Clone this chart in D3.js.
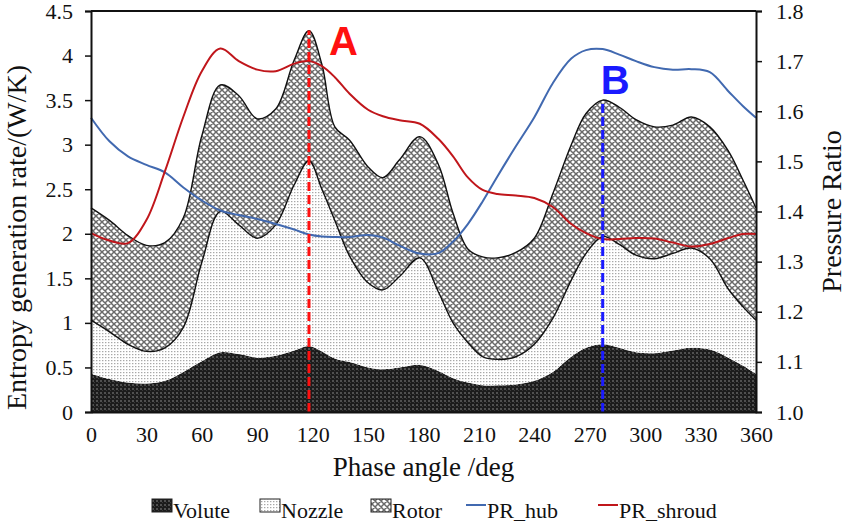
<!DOCTYPE html>
<html>
<head>
<meta charset="utf-8">
<script src="https://cdn.jsdelivr.net/npm/d3@7"></script>
<style>
  html, body { margin: 0; padding: 0; background: #fff; }
  svg { display: block; }
  text { font-family: "Liberation Serif", "Times New Roman", serif; fill: #111; }
</style>
</head>
<body>
<div id="chart"></div>
<script>
// Phase angle samples (deg)
const phase = [0, 10, 20, 30, 40, 50, 60, 70, 80, 90, 100, 110, 118, 125, 132, 140, 150, 158, 167, 178,
               188, 196, 204, 212, 220, 230, 240, 250, 260, 268, 277, 286, 295, 305, 315, 325, 335, 345, 353, 360];

// Entropy generation rate per component (W/K), stacked Volute -> Nozzle -> Rotor
const volute = [0.43, 0.37, 0.33, 0.32, 0.35, 0.45, 0.57, 0.67, 0.65, 0.61, 0.63, 0.69, 0.74, 0.68, 0.60, 0.56, 0.50, 0.48, 0.50, 0.53,
                0.46, 0.38, 0.33, 0.30, 0.30, 0.31, 0.35, 0.45, 0.62, 0.72, 0.76, 0.72, 0.67, 0.66, 0.69, 0.72, 0.70, 0.61, 0.52, 0.43];
const nozzle = [0.60, 0.53, 0.43, 0.36, 0.37, 0.50, 1.11, 1.58, 1.45, 1.34, 1.47, 1.86, 2.08, 1.82, 1.55, 1.19, 0.95, 0.89, 1.02, 1.20,
                0.89, 0.62, 0.45, 0.32, 0.29, 0.31, 0.41, 0.60, 0.86, 1.06, 1.21, 1.16, 1.09, 1.06, 1.09, 1.12, 1.02, 0.77, 0.66, 0.60];
const rotor  = [1.26, 1.25, 1.22, 1.19, 1.18, 1.23, 1.42, 1.42, 1.45, 1.34, 1.30, 1.40, 1.46, 1.40, 1.05, 1.30, 1.30, 1.26, 1.31, 1.36,
                1.43, 1.23, 1.05, 1.12, 1.14, 1.17, 1.19, 1.40, 1.52, 1.57, 1.53, 1.54, 1.52, 1.48, 1.44, 1.47, 1.48, 1.55, 1.42, 1.26];

// Pressure ratio at hub and shroud
const prHub    = [1.587, 1.540, 1.510, 1.493, 1.478, 1.448, 1.422, 1.402, 1.393, 1.385, 1.375, 1.364, 1.354, 1.350, 1.349, 1.349, 1.353, 1.348, 1.332, 1.316,
                  1.317, 1.340, 1.375, 1.420, 1.470, 1.530, 1.588, 1.656, 1.705, 1.722, 1.724, 1.713, 1.700, 1.688, 1.683, 1.684, 1.678, 1.640, 1.610, 1.587];
const prShroud = [1.357, 1.342, 1.337, 1.383, 1.480, 1.589, 1.680, 1.725, 1.700, 1.683, 1.680, 1.695, 1.700, 1.690, 1.668, 1.635, 1.603, 1.590, 1.582, 1.575,
                  1.545, 1.510, 1.468, 1.443, 1.435, 1.432, 1.427, 1.409, 1.375, 1.357, 1.345, 1.345, 1.347, 1.346, 1.338, 1.330, 1.335, 1.347, 1.355, 1.355];

// Marked phases (A: rotor peak, B: second peak)
const markers = [
  { label: "A", phase: 118, color: "#ff1010", dx: 20, dy: 24 },
  { label: "B", phase: 277, color: "#1a1aff", dx: -2, dy: -6 }
];

// Tick labels
const xTicks = [0, 30, 60, 90, 120, 150, 180, 210, 240, 270, 300, 330, 360];
const yTicks = [0, 0.5, 1, 1.5, 2, 2.5, 3, 3.5, 4, 4.5];
const y2Ticks = [1.0, 1.1, 1.2, 1.3, 1.4, 1.5, 1.6, 1.7, 1.8];

const W = 848, H = 527;
const m = { left: 91, right: 92, top: 11, bottom: 115 };
const iw = W - m.left - m.right, ih = H - m.top - m.bottom;

const svg = d3.select("#chart").append("svg").attr("width", W).attr("height", H);
const defs = svg.append("defs");

// Fill patterns
const pV = defs.append("pattern").attr("id", "pVolute").attr("patternUnits", "userSpaceOnUse")
  .attr("width", 4).attr("height", 4);
pV.append("rect").attr("width", 4).attr("height", 4).attr("fill", "#1c1c1c");
pV.append("rect").attr("x", 0).attr("y", 0).attr("width", 2).attr("height", 2).attr("fill", "#505050");
pV.append("rect").attr("x", 2).attr("y", 2).attr("width", 1).attr("height", 1).attr("fill", "#3a3a3a");

const pN = defs.append("pattern").attr("id", "pNozzle").attr("patternUnits", "userSpaceOnUse")
  .attr("width", 3).attr("height", 3);
pN.append("rect").attr("width", 3).attr("height", 3).attr("fill", "#ffffff");
pN.append("rect").attr("x", 0).attr("y", 0).attr("width", 1.4).attr("height", 1.2).attr("fill", "#a8a8a8");

const pR = defs.append("pattern").attr("id", "pRotor").attr("patternUnits", "userSpaceOnUse")
  .attr("width", 6).attr("height", 6);
pR.append("rect").attr("width", 6).attr("height", 6).attr("fill", "#ffffff");
pR.append("path").attr("d", "M0,0 L6,6 M6,0 L0,6 M-1,5 L1,7 M5,-1 L7,1 M-1,1 L1,-1 M5,7 L7,5")
  .attr("stroke", "#6a6a6a").attr("stroke-width", 1.5).attr("fill", "none");

const x = d3.scaleLinear().domain([0, 360]).range([m.left, m.left + iw]);
const y = d3.scaleLinear().domain([0, 4.5]).range([m.top + ih, m.top]);
const y2 = d3.scaleLinear().domain([1.0, 1.8]).range([m.top + ih, m.top]);

const rows = phase.map((p, i) => ({ phase: p, Volute: volute[i], Nozzle: nozzle[i], Rotor: rotor[i] }));
const keys = ["Volute", "Nozzle", "Rotor"];
const series = d3.stack().keys(keys)(rows);
const fills = { Volute: "url(#pVolute)", Nozzle: "url(#pNozzle)", Rotor: "url(#pRotor)" };

const curve = d3.curveCatmullRom.alpha(0.5);
const area = d3.area().curve(curve)
  .x(d => x(d.data.phase)).y0(d => y(d[0])).y1(d => y(d[1]));
const topLine = d3.line().curve(curve).x(d => x(d.data.phase)).y(d => y(d[1]));

const g = svg.append("g");
g.selectAll("path.area").data(series).join("path")
  .attr("class", "area").attr("d", area).attr("fill", d => fills[d.key]);
g.selectAll("path.edge").data(series.filter(s => s.key !== "Volute")).join("path")
  .attr("class", "edge").attr("d", topLine).attr("fill", "none")
  .attr("stroke", "#111").attr("stroke-width", 1.4);

// Pressure ratio lines
const prLine = vals => d3.line().curve(curve).x((d, i) => x(phase[i])).y(d => y2(d))(vals);
g.append("path").attr("d", prLine(prHub)).attr("fill", "none").attr("stroke", "#4169b0").attr("stroke-width", 2);
g.append("path").attr("d", prLine(prShroud)).attr("fill", "none").attr("stroke", "#c0161b").attr("stroke-width", 2);

// Marker lines from zero up to the rotor stack top
const rotorTop = series[2];
markers.forEach(mk => {
  const idx = phase.indexOf(mk.phase);
  const top = rotorTop[idx][1];
  g.append("line").attr("x1", x(mk.phase)).attr("x2", x(mk.phase))
    .attr("y1", y(0)).attr("y2", y(top))
    .attr("stroke", mk.color).attr("stroke-width", 3).attr("stroke-dasharray", "9,4");
  g.append("text").attr("x", x(mk.phase) + mk.dx).attr("y", y(top) + mk.dy)
    .text(mk.label)
    .style("font-family", "'Liberation Sans', Arial, sans-serif").style("font-weight", "bold")
    .style("font-size", "40px").style("fill", mk.color);
});

// Axes
const axisColor = "#111";
const xAxis = svg.append("g").attr("transform", `translate(0,${m.top + ih})`)
  .call(d3.axisBottom(x).tickValues(xTicks).tickSize(0).tickPadding(14).tickFormat(d3.format("d")));
const yAxis = svg.append("g").attr("transform", `translate(${m.left},0)`)
  .call(d3.axisLeft(y).tickValues(yTicks).tickSize(6).tickPadding(12).tickFormat(d => d3.format("")(d)));
const y2Axis = svg.append("g").attr("transform", `translate(${m.left + iw},0)`)
  .call(d3.axisRight(y2).tickValues(y2Ticks).tickSize(6).tickPadding(14).tickFormat(d3.format(".1f")));
[xAxis, yAxis, y2Axis].forEach(a => {
  a.selectAll("text").style("font-size", "22px").style("font-family", "'Liberation Serif', serif").attr("fill", "#111");
  a.selectAll("line").attr("stroke", axisColor).attr("stroke-width", 1.5);
  a.select(".domain").attr("stroke", axisColor).attr("stroke-width", 2);
});
// Top border of the plot
svg.append("line").attr("x1", m.left).attr("x2", m.left + iw).attr("y1", m.top).attr("y2", m.top)
  .attr("stroke", axisColor).attr("stroke-width", 2);

// Axis titles
svg.append("text").attr("x", x(180)).attr("y", 476).attr("text-anchor", "middle")
  .style("font-size", "27px").text("Phase angle /deg");
svg.append("text").attr("transform", `translate(26,${(410 + 65) / 2}) rotate(-90)`).attr("text-anchor", "middle")
  .style("font-size", "28px").text("Entropy generation rate/(W/K)");
svg.append("text").attr("transform", `translate(841,${m.top + ih / 2}) rotate(-90)`).attr("text-anchor", "middle")
  .style("font-size", "28px").text("Pressure Ratio");

// Legend
const legend = [
  { name: "Volute", type: "box", fill: "url(#pVolute)", x: 152 },
  { name: "Nozzle", type: "box", fill: "url(#pNozzle)", x: 260 },
  { name: "Rotor", type: "box", fill: "url(#pRotor)", x: 371 },
  { name: "PR_hub", type: "line", color: "#4169b0", x: 466 },
  { name: "PR_shroud", type: "line", color: "#c0161b", x: 598 }
];
const ly = 512;
legend.forEach(it => {
  if (it.type === "box") {
    svg.append("rect").attr("x", it.x).attr("y", ly - 13).attr("width", 20).attr("height", 13)
      .attr("fill", it.fill).attr("stroke", "#222").attr("stroke-width", 1);
  } else {
    svg.append("line").attr("x1", it.x).attr("x2", it.x + 20).attr("y1", ly - 7).attr("y2", ly - 7)
      .attr("stroke", it.color).attr("stroke-width", 2);
  }
  svg.append("text").attr("x", it.x + 21).attr("y", ly + 6).style("font-size", "22px").text(it.name);
});
</script>
</body>
</html>
